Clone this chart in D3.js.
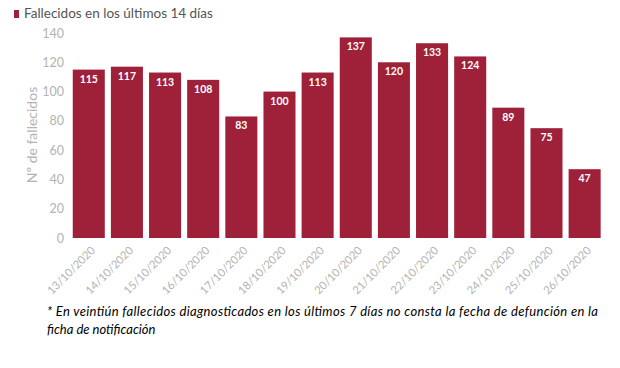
<!DOCTYPE html>
<html><head><meta charset="utf-8">
<script src="https://cdn.jsdelivr.net/npm/d3@7"></script>
<style>body{margin:0;background:#fff}svg{display:block}</style>
</head><body>
<svg id="c" width="620" height="368"></svg>
<script>
const categories = ["13/10/2020","14/10/2020","15/10/2020","16/10/2020","17/10/2020","18/10/2020","19/10/2020","20/10/2020","21/10/2020","22/10/2020","23/10/2020","24/10/2020","25/10/2020","26/10/2020"];
const values = [115,117,113,108,83,100,113,137,120,133,124,89,75,47];
const yTicks = [0,20,40,60,80,100,120,140];
const legendLabel = "Fallecidos en los últimos 14 días";
const yTitle = "Nº de fallecidos";
const footnote = ["* En veintiún fallecidos  diagnosticados  en los últimos 7 días no consta la fecha de defunción en la","ficha de notificación"];

const svg = d3.select("#c");
const font = "Lato, 'Open Sans', sans-serif";
const barColor = "#9e2139";
const x = d3.scaleBand().domain(categories).range([69.7, 603.7]).paddingInner(0.16).paddingOuter(0.08);
const y = d3.scaleLinear().domain([0,140]).range([238, 33]);

// y axis labels
const ya = svg.append("g").attr("transform","translate(64,0)")
  .call(d3.axisLeft(y).tickValues(yTicks).tickSize(0).tickPadding(0));
ya.select(".domain").remove();
ya.selectAll("text").attr("font-family",font).attr("font-size",12.5).attr("fill","#b3b3b3");

// x axis labels
const xa = svg.append("g").attr("transform","translate(0,238)")
  .call(d3.axisBottom(x).tickSize(0));
xa.select(".domain").remove();
xa.selectAll("text").attr("font-family",font).attr("font-size",11.2).attr("fill","#b3b3b3")
  .attr("text-anchor","end").attr("dy",0).attr("transform","translate(5,11) rotate(-45)");

// bars
svg.append("g").selectAll("rect").data(values).join("rect")
  .attr("x",(d,i)=>x(categories[i])).attr("width",x.bandwidth())
  .attr("y",d=>y(d)).attr("height",d=>y(0)-y(d)).attr("fill",barColor);

svg.append("g").selectAll("text").data(values).join("text")
  .attr("x",(d,i)=>x(categories[i])+x.bandwidth()/2).attr("y",d=>y(d)+13)
  .attr("text-anchor","middle").attr("font-family",font).attr("font-size",10.5)
  .attr("font-weight","bold").attr("fill","#fff").text(d=>d);

// y title
svg.append("text").attr("transform","translate(37,135) rotate(-90)").attr("text-anchor","middle")
  .attr("font-family",font).attr("font-size",14).attr("fill","#b3b3b3").text(yTitle);

// legend
svg.append("rect").attr("x",14).attr("y",10).attr("width",5).attr("height",8).attr("fill",barColor);
svg.append("text").attr("x",24).attr("y",18).attr("font-family",font).attr("font-size",13.5)
  .attr("fill","#555").text(legendLabel);

// footnote
svg.append("text").attr("x",47).attr("y",316).attr("font-family",font).attr("font-size",13)
  .attr("font-style","italic").attr("fill","#000").attr("textLength",551).attr("lengthAdjust","spacing").text(footnote[0]);
svg.append("text").attr("x",47).attr("y",334).attr("font-family",font).attr("font-size",13)
  .attr("font-style","italic").attr("fill","#000").text(footnote[1]);
</script>
</body></html>
